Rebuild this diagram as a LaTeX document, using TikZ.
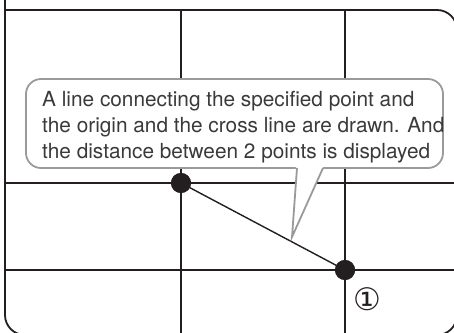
\documentclass[tikz,border=0pt]{standalone}
\usepackage{fontspec}
\setmainfont{TeX Gyre Heros}
\newfontfamily\symfont{DejaVu Sans}
\definecolor{ink}{HTML}{231F20}
\definecolor{calloutgray}{HTML}{9A9A9A}
\definecolor{txt}{HTML}{3A3A3A}
\begin{document}
\begin{tikzpicture}[x=1pt,y=1pt,
  frame/.style={draw=ink,line width=1.8pt},
  gridline/.style={draw=ink,line width=1.5pt},
  callout/.style={draw=calloutgray,line width=1.8pt,fill=white},
  dot/.style={circle,fill=ink,minimum size=20pt,inner sep=0pt},
  conn/.style={draw=ink,line width=1.4pt},
  msg/.style={align=left,inner sep=0pt,text=txt,font=\fontsize{20.8}{26}\selectfont}]
\useasboundingbox (0,0) rectangle (454,332);
\begin{scope}
\clip (0,0) rectangle (454,332);
% grid
\draw[gridline] (181,322) -- (181,-5);
\draw[gridline] (345,322) -- (345,-5);
\draw[gridline] (5,149) -- (460,149);
\draw[gridline] (5,62) -- (460,62);
% frame
\draw[frame,rounded corners=20pt] (5,-3) -- (5,322) [sharp corners] -- (5,322) [rounded corners=20pt] -- (457,322) -- (457,-3) -- cycle;
\end{scope}
% connector
\node[dot] (a) at (181,149) {};
\node[dot] (b) at (345,62) {};
\draw[conn] (a.center) -- (b.center);
\node[dot] at (181,149) {};
\node[dot] at (345,62) {};
% callout
\draw[callout,rounded corners=15pt] (26,164) rectangle (443,253);
\fill[white] (296,166.5) -- (292,95) -- (324,166.5) -- cycle;
\coordinate (tip) at (292,95);
\draw[draw=calloutgray,line width=1.8pt,line join=miter] (297,164) -- (tip) -- (323,164);
\node[msg,anchor=north west] (text) at (42,241) {A line connecting the specified point and\\the origin and the cross line are drawn. And\\the distance between 2 points is displayed};
\node[text=ink,font=\symfont\fontsize{31}{31}\selectfont] (lbl) at (367,33) {①};
\end{tikzpicture}
\end{document}
